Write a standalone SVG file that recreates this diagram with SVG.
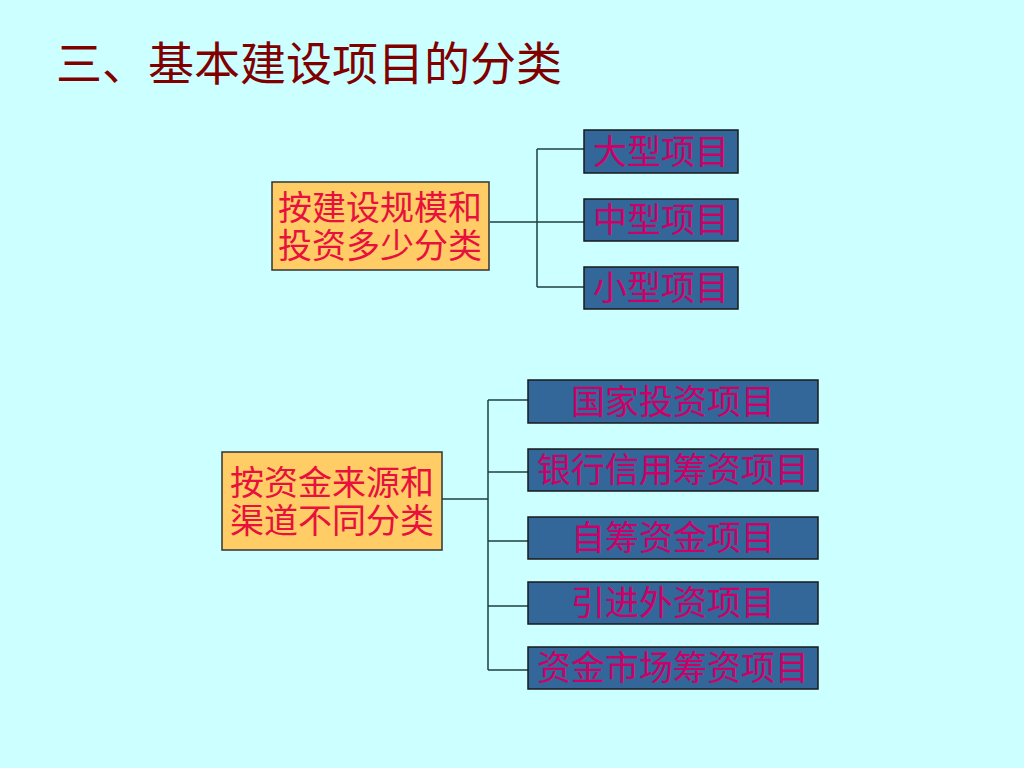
<svg xmlns="http://www.w3.org/2000/svg" width="1024" height="768" viewBox="0 0 1024 768">
<style>
.t{font-family:"Liberation Serif","Noto Sans CJK SC",serif;}
.title{font-size:46px;fill:#800000;}
.ob{fill:#FFCC66;stroke:#333333;stroke-width:1.5;}
.bb{fill:#336699;stroke:#1a1a1a;stroke-width:1.5;}
.ot{font-size:34px;fill:#E8103C;text-anchor:middle;}
.bt{font-size:34px;fill:#CC0066;text-anchor:middle;}
.c{fill:none;stroke:#1f4040;stroke-width:1.5;}
</style>
<rect width="1024" height="768" fill="#CCFFFF"/>
<text class="t title" x="56" y="80">三、基本建设项目的分类</text>
<g id="connectors">
<path class="c" d="M490,222 H584 M537,149 V287 M537,149 H584 M537,287 H584"/>
<path class="c" d="M442,499 H488 M488,400 V670 M488,400 H528 M488,472 H528 M488,541 H528 M488,606 H528 M488,670 H528"/>
</g>
<g id="scale">
<rect class="ob" x="272" y="182" width="217" height="88"/>
<text class="t ot" x="380" y="220">按建设规模和</text>
<text class="t ot" x="380" y="258">投资多少分类</text>
</g>
<g id="large"><rect class="bb" x="584" y="130" width="154" height="43"/><text class="t bt" x="661" y="164">大型项目</text></g>
<g id="medium"><rect class="bb" x="584" y="199" width="154" height="42"/><text class="t bt" x="661" y="232">中型项目</text></g>
<g id="small"><rect class="bb" x="584" y="267" width="154" height="42"/><text class="t bt" x="661" y="300">小型项目</text></g>
<g id="source">
<rect class="ob" x="222" y="452" width="220" height="98"/>
<text class="t ot" x="332" y="495">按资金来源和</text>
<text class="t ot" x="332" y="533">渠道不同分类</text>
</g>
<g id="state"><rect class="bb" x="528" y="380" width="290" height="43"/><text class="t bt" x="673" y="414">国家投资项目</text></g>
<g id="bank"><rect class="bb" x="528" y="449" width="290" height="42"/><text class="t bt" x="673" y="482">银行信用筹资项目</text></g>
<g id="self"><rect class="bb" x="528" y="517" width="290" height="42"/><text class="t bt" x="673" y="550">自筹资金项目</text></g>
<g id="foreign"><rect class="bb" x="528" y="582" width="290" height="42"/><text class="t bt" x="673" y="615">引进外资项目</text></g>
<g id="market"><rect class="bb" x="528" y="647" width="290" height="42"/><text class="t bt" x="673" y="680">资金市场筹资项目</text></g>
</svg>
